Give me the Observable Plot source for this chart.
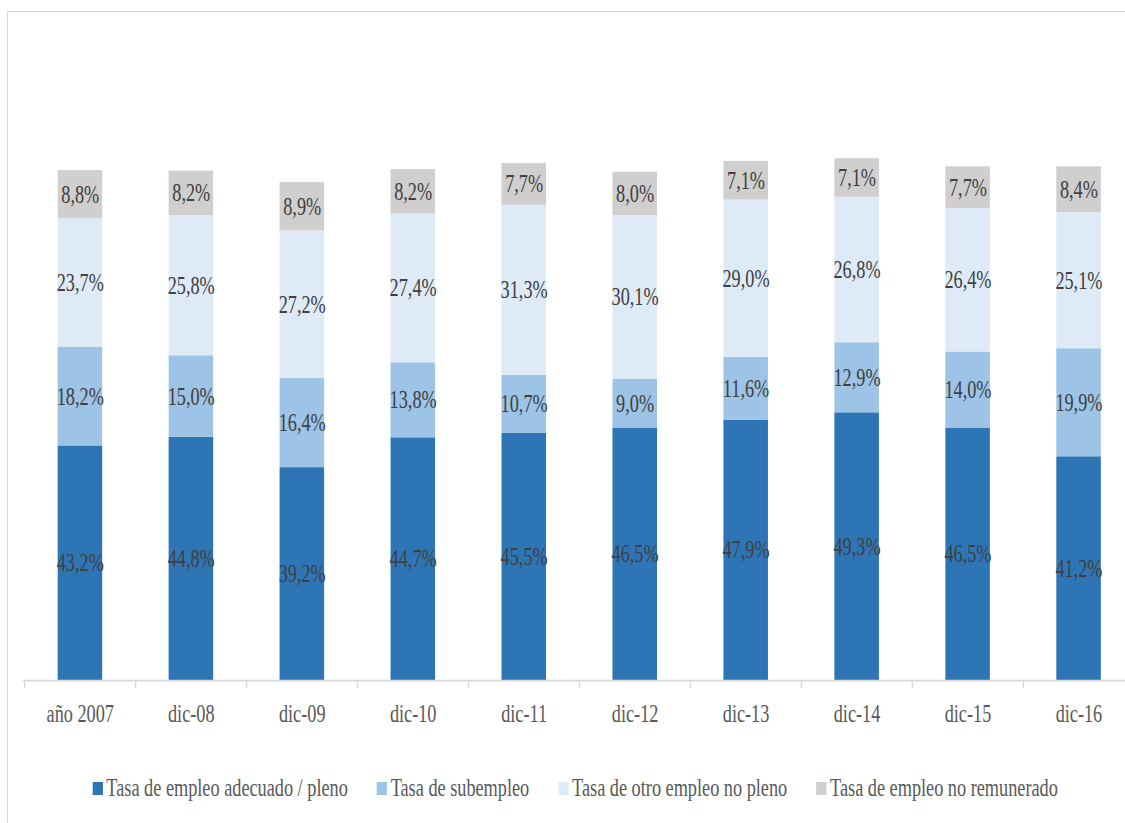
<!DOCTYPE html>
<html>
<head>
<meta charset="utf-8">
<script src="https://cdn.jsdelivr.net/npm/d3@7"></script>
<script src="https://cdn.jsdelivr.net/npm/@observablehq/plot@0.6"></script>
<style>
  html, body { margin: 0; padding: 0; background: #fff; overflow: hidden; width: 1125px; height: 823px; }
  #frame { position: absolute; left: 7px; top: 11px; width: 1300px; height: 1000px; border-left: 1.5px solid #d9d9d9; border-top: 1.5px solid #d9d9d9; }
  #wrap { position: absolute; left: 0; top: 0; width: 1560px; height: 823px; transform: scaleX(0.73); transform-origin: 0 0; font-family: "Liberation Serif", "Times New Roman", serif; }
  #chart { position: absolute; left: 0; top: 0; }
  #legend { position: absolute; left: 127px; top: 776px; height: 24px; display: flex; align-items: center; font-size: 25px; color: #595959; white-space: nowrap; }
  .item { display: flex; align-items: center; margin-right: 40px; }
  .sw { width: 13.7px; height: 13px; margin-right: 5px; }
</style>
</head>
<body>
<div id="frame"></div>
<div id="wrap">
  <div id="chart"></div>
  <div id="legend"></div>
</div>
<script>
const categories = ["año 2007", "dic-08", "dic-09", "dic-10", "dic-11", "dic-12", "dic-13", "dic-14", "dic-15", "dic-16"];
const seriesNames = ["Tasa de empleo adecuado / pleno", "Tasa de subempleo", "Tasa de otro empleo no pleno", "Tasa de empleo no remunerado"];
const adecuado = [43.2, 44.8, 39.2, 44.7, 45.5, 46.5, 47.9, 49.3, 46.5, 41.2];
const subempleo = [18.2, 15.0, 16.4, 13.8, 10.7, 9.0, 11.6, 12.9, 14.0, 19.9];
const otroNoPleno = [23.7, 25.8, 27.2, 27.4, 31.3, 30.1, 29.0, 26.8, 26.4, 25.1];
const noRemunerado = [8.8, 8.2, 8.9, 8.2, 7.7, 8.0, 7.1, 7.1, 7.7, 8.4];
const colors = ["#2E75B6", "#9DC3E6", "#DEEBF7", "#D0CECE"];

const seriesValues = [adecuado, subempleo, otroNoPleno, noRemunerado];
const data = [];
seriesNames.forEach((s, i) => categories.forEach((c, j) => data.push({cat: c, series: s, value: seriesValues[i][j]})));
const fmt = v => v.toFixed(1).replace(".", ",") + "%";

const W = 1560, ML = 31.5, MR = 4;
const step = (W - ML - MR) / categories.length;

const plot = Plot.plot({
  width: W,
  height: 760,
  marginLeft: ML,
  marginRight: MR,
  marginTop: 137,
  marginBottom: 80,
  style: {fontFamily: '"Liberation Serif", "Times New Roman", serif', fontSize: "25px", color: "#595959", background: "transparent", maxWidth: "none"},
  x: {domain: categories, paddingInner: 0.6, paddingOuter: 0.3, label: null},
  y: {domain: [0, 100], axis: null},
  color: {domain: seriesNames, range: colors},
  marks: [
    Plot.barY(data, {x: "cat", y: "value", fill: "series", z: "series"}),
    Plot.text(data, Plot.stackY({x: "cat", y: "value", z: "series", text: d => fmt(d.value), fill: "#404040", fontSize: 25})),
    Plot.ruleY([0], {stroke: "#d9d9d9", strokeWidth: 1.75}),
    Plot.ruleX(categories, {x: d => d, dx: -step / 2, y1: 0, y2: -1.5, stroke: "#d9d9d9", strokeWidth: 2}),
    Plot.axisX({tickSize: 0, tickPadding: 24, fontSize: 25, fill: "#595959"})
  ]
});
document.getElementById("chart").appendChild(plot);

const legend = document.getElementById("legend");
seriesNames.forEach((s, i) => {
  const item = document.createElement("div");
  item.className = "item";
  const sw = document.createElement("span");
  sw.className = "sw";
  sw.style.background = colors[i];
  const t = document.createElement("span");
  t.textContent = s;
  item.appendChild(sw);
  item.appendChild(t);
  legend.appendChild(item);
});
</script>
</body>
</html>
